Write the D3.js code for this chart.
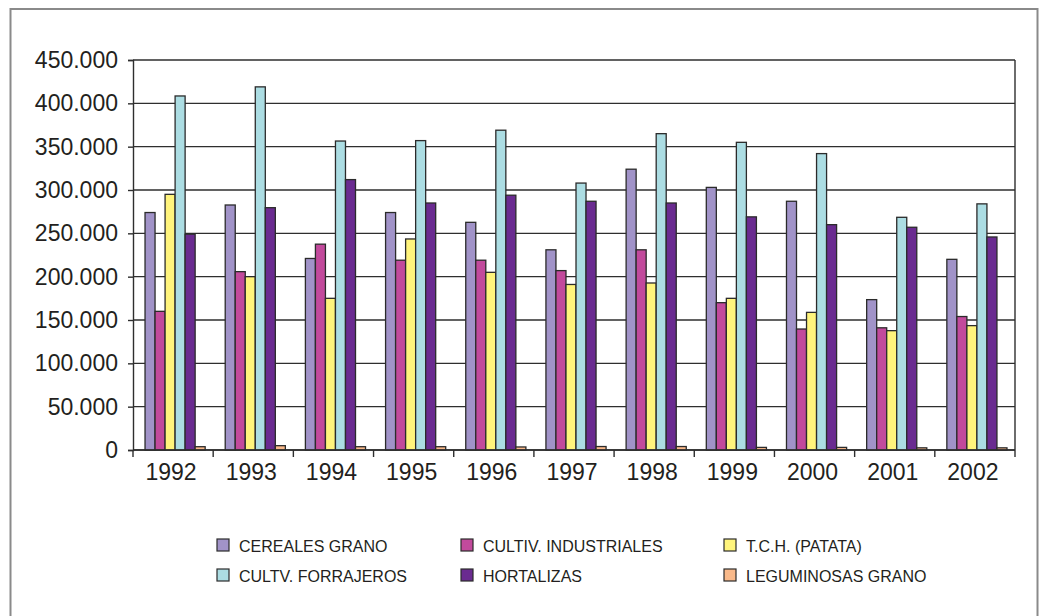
<!DOCTYPE html>
<html>
<head>
<meta charset="utf-8">
<script src="https://cdn.jsdelivr.net/npm/d3@7"></script>
<style>
  body { margin: 0; background: #fff; }
  svg { font-family: "Liberation Sans", Arial, sans-serif; }
</style>
</head>
<body>
<svg id="chart" width="1040" height="616"></svg>
<script>
// Years on the x axis
var years = ['1992', '1993', '1994', '1995', '1996', '1997', '1998', '1999', '2000', '2001', '2002'];

// Series names (legend order)
var seriesNames = ['CEREALES GRANO', 'CULTIV. INDUSTRIALES', 'T.C.H. (PATATA)', 'CULTV. FORRAJEROS', 'HORTALIZAS', 'LEGUMINOSAS GRANO'];

// Values per series
var cereales     = [274000, 282700, 221000, 274000, 262700, 231000, 324000, 303000, 287000, 173500, 220000];
var industriales = [160000, 205800, 237500, 219000, 219000, 207000, 231000, 170000, 139600, 141000, 154000];
var patata       = [295000, 200000, 175000, 243500, 205000, 191000, 192700, 175000, 158800, 137700, 143500];
var forrajeros   = [408500, 419000, 356500, 357000, 369000, 308000, 365000, 355000, 342000, 268500, 284000];
var hortalizas   = [249000, 279600, 312000, 285000, 294000, 287000, 285000, 269000, 260000, 257000, 245800];
var leguminosas  = [3800, 5000, 3800, 3800, 3500, 4000, 4000, 3000, 3000, 2500, 2500];

var yTicks = [0, 50000, 100000, 150000, 200000, 250000, 300000, 350000, 400000, 450000];

var seriesValues = [cereales, industriales, patata, forrajeros, hortalizas, leguminosas];
var colors = ['#a193c8', '#c24a9c', '#fff47c', '#acdde3', '#6a2b90', '#f9b98a'];

var svg = d3.select('#chart');
var margin = {top: 60, right: 25, bottom: 166, left: 133};
var width = 1040 - margin.left - margin.right;
var height = 616 - margin.top - margin.bottom;

// Outer frame
svg.append('rect')
  .attr('x', 10.5).attr('y', 9)
  .attr('width', 1027).attr('height', 620)
  .attr('fill', 'none')
  .attr('stroke', '#8a8a8a')
  .attr('stroke-width', 2);

var g = svg.append('g').attr('transform', 'translate(' + margin.left + ',' + margin.top + ')');

var x = d3.scaleBand().domain(years).range([0, width]);
var y = d3.scaleLinear().domain([0, 450000]).range([height, 0]);

var fmt = function(d) { return d === 0 ? '0' : d3.format(',')(d).replace(/,/g, '.'); };

// Gridlines
g.append('g')
  .selectAll('line')
  .data(yTicks)
  .enter().append('line')
  .attr('x1', 0).attr('x2', width)
  .attr('y1', function(d) { return y(d); })
  .attr('y2', function(d) { return y(d); })
  .attr('stroke', '#2e2e2e')
  .attr('stroke-width', 1.4);

// Right border of plot area
g.append('line')
  .attr('x1', width).attr('x2', width)
  .attr('y1', 0).attr('y2', height)
  .attr('stroke', '#2e2e2e')
  .attr('stroke-width', 1.4);

// Bars
var barW = x.bandwidth() * 0.75 / seriesNames.length;
var offset = x.bandwidth() * 0.15;

seriesValues.forEach(function(vals, si) {
  g.append('g')
    .selectAll('rect')
    .data(vals)
    .enter().append('rect')
    .attr('x', function(d, i) { return x(years[i]) + offset + si * barW; })
    .attr('y', function(d) { return y(d); })
    .attr('width', barW)
    .attr('height', function(d) { return height - y(d); })
    .attr('fill', colors[si])
    .attr('stroke', '#2b2b2b')
    .attr('stroke-width', 1.3);
});

// Y axis
var yAxis = g.append('g')
  .call(d3.axisLeft(y).tickValues(yTicks).tickFormat(fmt).tickSize(5).tickPadding(10));
yAxis.select('.domain').attr('stroke', '#2e2e2e').attr('stroke-width', 1.4);
yAxis.selectAll('.tick line').attr('stroke', '#2e2e2e').attr('stroke-width', 1.4);
yAxis.selectAll('text').attr('fill', '#231f20').style('font-size', '23px');

// X axis with ticks at category boundaries
var xAxis = g.append('g').attr('transform', 'translate(0,' + height + ')');
xAxis.append('line')
  .attr('x1', 0).attr('x2', width)
  .attr('stroke', '#2e2e2e').attr('stroke-width', 1.4);
xAxis.selectAll('line.tick')
  .data(years.concat(['end']))
  .enter().append('line')
  .classed('tick', true)
  .attr('x1', function(d, i) { return i * x.step(); })
  .attr('x2', function(d, i) { return i * x.step(); })
  .attr('y1', 0).attr('y2', 7)
  .attr('stroke', '#2e2e2e').attr('stroke-width', 1.4);
xAxis.selectAll('text')
  .data(years)
  .enter().append('text')
  .attr('x', function(d) { return x(d) + x.bandwidth() / 2 - 2; })
  .attr('y', 30)
  .attr('text-anchor', 'middle')
  .attr('fill', '#231f20')
  .style('font-size', '23px')
  .text(function(d) { return d; });

// Legend
var legendCols = [217, 461, 724];
var legendTextX = [239, 483, 746];
var legendRows = [546, 576];

seriesNames.forEach(function(name, i) {
  var col = i % 3, row = Math.floor(i / 3);
  var item = svg.append('g');
  item.append('rect')
    .attr('x', legendCols[col]).attr('y', legendRows[row] - 7)
    .attr('width', 12).attr('height', 12)
    .attr('fill', colors[i])
    .attr('stroke', '#2b2b2b')
    .attr('stroke-width', 1.2);
  item.append('text')
    .attr('x', legendTextX[col]).attr('y', legendRows[row])
    .attr('dy', '0.35em')
    .attr('fill', '#231f20')
    .style('font-size', '16px')
    .text(name);
});
</script>
</body>
</html>
